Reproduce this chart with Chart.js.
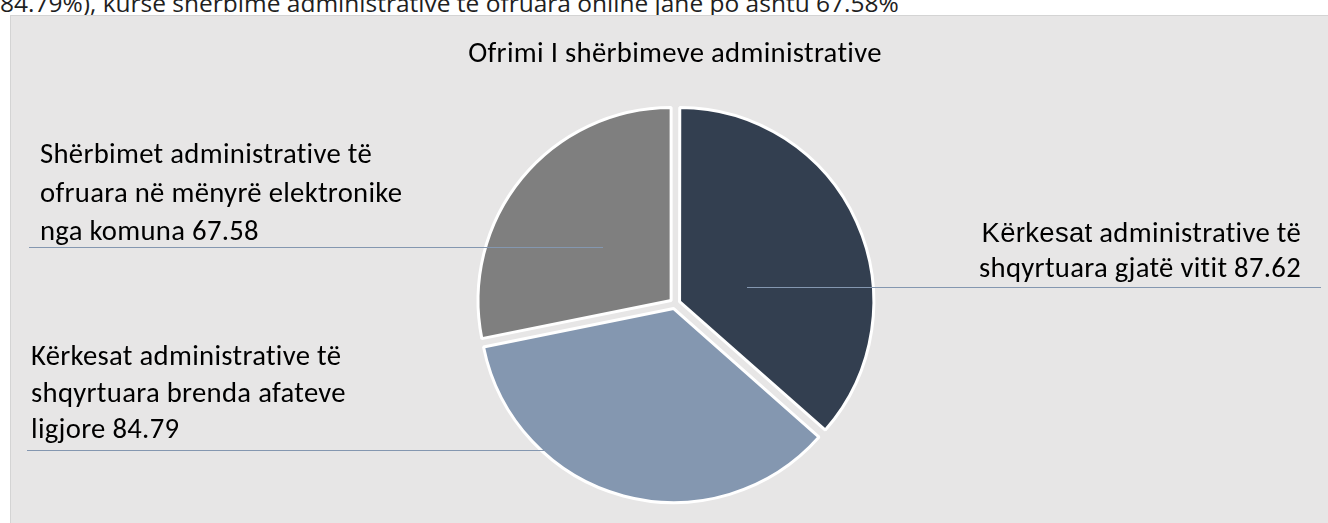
<!DOCTYPE html>
<html>
<head>
<meta charset="utf-8">
<script src="https://cdn.jsdelivr.net/npm/chart.js@4"></script>
<style>
  body { margin: 0; width: 1328px; height: 523px; overflow: hidden; background: #fff; position: relative; }
  #intro { position: absolute; left: 0; top: -14px; line-height: 24px; font: 24.5px "Open Sans", sans-serif; color: #1f1f1f; white-space: nowrap; }
  #panel { position: absolute; left: 10px; top: 15px; width: 1317px; height: 507px; background: #e7e6e6; border-left: 1px solid #d4d4d4; border-top: 1px solid #d4d4d4; }
  canvas { display: block; }
</style>
</head>
<body>
<div id="intro">84.79%), kurse shërbime administrative të ofruara online janë po ashtu 67.58%</div>
<div id="panel"><canvas id="pie" width="1317" height="507"></canvas></div>
<script>
const chartTitle = 'Ofrimi I shërbimeve administrative';
const categories = [
  ['Kërkesat administrative të', 'shqyrtuara gjatë vitit'],
  ['Kërkesat administrative të', 'shqyrtuara brenda afateve', 'ligjore'],
  ['Shërbimet administrative të', 'ofruara në mënyrë elektronike', 'nga komuna']
];
const values = [87.62, 84.79, 67.58];
const colors = ['#333f50', '#8497b0', '#7f7f7f'];

const textFont = '"Carlito", "Lato", sans-serif';
const textSize = 28.7;

// where each data label sits, relative to the pie centre
const labelLayout = [
  { align: 'right', textX: 626, baselines: [-62, -27], lineY: -17, lineFrom: 72, lineTo: 646, firstWordFont: '27.5px "Liberation Sans", Arial, sans-serif' },
  { align: 'left', textX: -644, baselines: [61, 98, 134], lineY: 146, lineFrom: -648, lineTo: -130 },
  { align: 'left', textX: -635, baselines: [-141, -102, -64], lineY: -57, lineFrom: -646, lineTo: -72 }
];

// no "ti" ligatures, like the original
const spacingFix = {
  id: 'spacingFix',
  beforeDraw(chart) { chart.ctx.letterSpacing = '0.3px'; }
};

const calloutLabels = {
  id: 'calloutLabels',
  afterDatasetsDraw(chart) {
    const ctx = chart.ctx;
    const meta = chart.getDatasetMeta(0);
    const data = chart.data.datasets[0].data;
    ctx.save();
    ctx.letterSpacing = '0.3px';
    meta.data.forEach((arc, i) => {
      const { x, y } = arc.getProps(['x', 'y'], true);
      const lay = labelLayout[i];
      const lines = chart.data.labels[i].slice();
      lines[lines.length - 1] += ' ' + data[i].toFixed(2);

      ctx.strokeStyle = '#8497b0';
      ctx.lineWidth = 1;
      ctx.beginPath();
      ctx.moveTo(x + lay.lineFrom, Math.round(y + lay.lineY) + 0.5);
      ctx.lineTo(x + lay.lineTo, Math.round(y + lay.lineY) + 0.5);
      ctx.stroke();

      ctx.fillStyle = '#000';
      ctx.textBaseline = 'alphabetic';
      const mainFont = textSize + 'px ' + textFont;
      lines.forEach((line, j) => {
        const by = y + lay.baselines[j];
        if (j === 0 && lay.firstWordFont) {
          const sp = line.indexOf(' ');
          const first = line.slice(0, sp);
          const rest = line.slice(sp);
          ctx.font = lay.firstWordFont;
          const w1 = ctx.measureText(first).width;
          ctx.font = mainFont;
          const w2 = ctx.measureText(rest).width;
          const sx = lay.align === 'right' ? x + lay.textX - w1 - w2 : x + lay.textX;
          ctx.textAlign = 'left';
          ctx.font = lay.firstWordFont;
          ctx.fillText(first, sx, by);
          ctx.font = mainFont;
          ctx.fillText(rest, sx + w1, by);
        } else {
          ctx.font = mainFont;
          ctx.textAlign = lay.align;
          ctx.fillText(line, x + lay.textX, by);
        }
      });
    });
    ctx.restore();
  }
};

new Chart(document.getElementById('pie').getContext('2d'), {
  type: 'pie',
  data: {
    labels: categories,
    datasets: [{
      data: values,
      backgroundColor: colors,
      borderColor: '#ffffff',
      borderWidth: 3,
      offset: 20,
      radius: 193
    }]
  },
  options: {
    responsive: false,
    animation: false,
    layout: { padding: { left: 11, top: 0, right: 0, bottom: 0 } },
    plugins: {
      legend: { display: false },
      tooltip: { enabled: false },
      title: {
        display: true,
        text: chartTitle,
        color: '#000',
        font: { family: textFont, size: textSize, weight: 'normal' },
        padding: { top: 22, bottom: 12 }
      }
    }
  },
  plugins: [spacingFix, calloutLabels]
});
</script>
</body>
</html>
